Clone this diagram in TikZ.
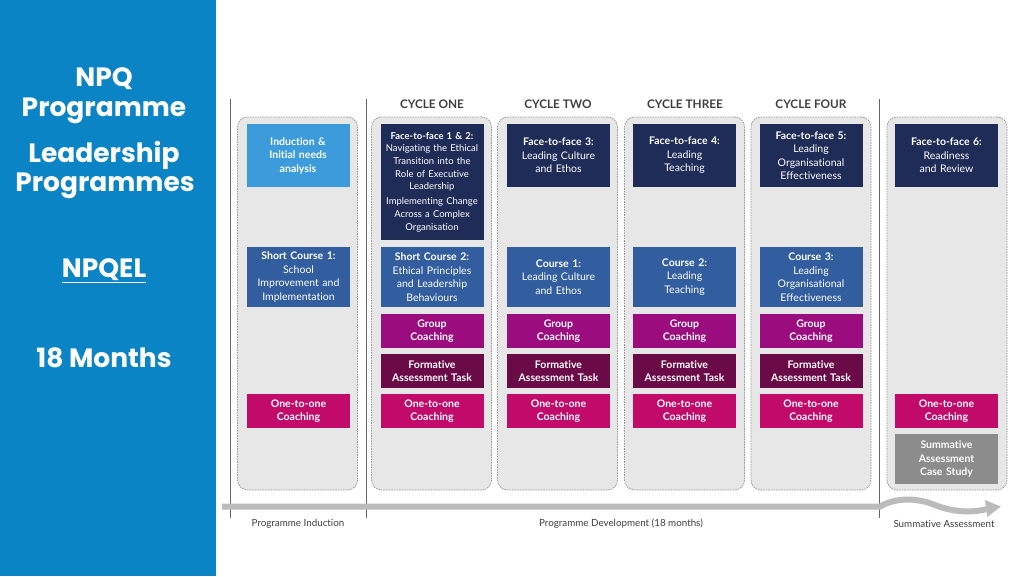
\documentclass[tikz,border=0pt]{standalone}
\usepackage{fontspec}
\usetikzlibrary{arrows.meta}
\newfontfamily\lato[Ligatures=NoCommon]{Lato}
\newfontfamily\pop{Poppins}
\definecolor{panelblue}{HTML}{0B84C6}
\definecolor{indblue}{HTML}{3C9BDB}
\definecolor{navy}{HTML}{1F2C58}
\definecolor{courseblue}{HTML}{325D9F}
\definecolor{grouppink}{HTML}{9B0C7E}
\definecolor{formmaroon}{HTML}{6A0A47}
\definecolor{onepink}{HTML}{C20A6B}
\definecolor{sumgray}{HTML}{8C8C8C}
\definecolor{colfill}{HTML}{E7E7E7}
\definecolor{coldraw}{HTML}{9A9A9A}
\definecolor{linegray}{HTML}{666666}
\definecolor{bargray}{HTML}{BBBBBB}
\definecolor{headgray}{HTML}{3F3F3F}
\tikzset{
  colbg/.style={draw=coldraw, fill=colfill, dash pattern=on 1.6pt off 1pt, line width=0.8pt, rounded corners=10pt, minimum width=120pt, minimum height=373pt, inner sep=0pt},
  blk/.style={minimum width=103pt, inner sep=0pt, text width=102pt, align=center, text=white, font=\lato\fontsize{10.5}{13.5}\selectfont},
  blksmall/.style={blk, font=\lato\fontsize{9.5}{12.7}\selectfont},
  head/.style={font=\lato\bfseries\fontsize{11.8}{13}\selectfont, text=headgray},
  foot/.style={font=\lato\fontsize{9.8}{11}\selectfont, text=headgray},
  sep/.style={draw=linegray, line width=0.8pt},
  paneltext/.style={text=white, font=\pop\bfseries\fontsize{26.5}{30}\selectfont, align=center},
}
\begin{document}
\begin{tikzpicture}[x=1pt,y=-1pt]
\useasboundingbox (0,0) rectangle (1024,576);
% left panel
\fill[panelblue] (0,0) rectangle (216,576);
\node[paneltext] (t1) at (104,79) {NPQ};
\node[paneltext] (t2) at (104,111) {Programme};
\node[paneltext] (t3) at (104,155) {Leadership};
\node[paneltext] (t4) at (105,186) {Programmes};
\node[paneltext] (t5) at (104,271) {\underline{NPQEL}};
\node[paneltext] (t6) at (104,358) {18 Months};

% separators and ticks
\coordinate (s1t) at (230,99); \coordinate (s1b) at (230,518);
\coordinate (s2t) at (366,99); \coordinate (s2b) at (366,518);
\coordinate (s3t) at (879,99); \coordinate (s3b) at (879,518);
\draw[sep] (s1t) -- (s1b);
\draw[sep] (s2t) -- (s2b);
\draw[sep] (s3t) -- (s3b);

% timeline
\coordinate (ta) at (222,506.5);
\coordinate (tb) at (880,506.5);
\draw[bargray, line width=6pt, -{Triangle[length=15pt,width=16pt]}]
  (ta) -- (tb) .. controls (895,498) and (915,497) .. (935,505)
  .. controls (955,513) and (975,513) .. (990,508) -- (1001,506.5);

% column backgrounds
\node[colbg] (cb0) at (297.5,303.5) {};
\node[colbg] (cb1) at (431.5,303.5) {};
\node[colbg] (cb2) at (557.5,303.5) {};
\node[colbg] (cb3) at (684.5,303.5) {};
\node[colbg] (cb4) at (811,303.5) {};
\node[colbg] (cb5) at (947,303.5) {};

% headers
\node[head] (h1) at (432,104) {CYCLE ONE};
\node[head] (h2) at (558,104) {CYCLE TWO};
\node[head] (h3) at (685,104) {CYCLE THREE};
\node[head] (h4) at (811,104) {CYCLE FOUR};

% column 0
\node[blk, fill=indblue, minimum height=63pt] (ind) at (298,155.5) {\textbf{Induction \&\\Initial needs\\analysis}};
\node[blk, fill=courseblue, minimum height=60pt] (sc1) at (298.5,277) {\textbf{Short Course 1:}\\School\\Improvement and\\Implementation};
\node[blk, fill=onepink, minimum height=34pt] (oo0) at (298.5,411) {\textbf{One-to-one\\Coaching}};

% column 1
\node[blksmall, fill=navy, minimum height=116pt] (f12) at (432,182) {\textbf{Face-to-face 1 \& 2:}\\Navigating the Ethical\\Transition into the\\Role of Executive\\Leadership\\[2pt]Implementing Change\\Across a Complex\\Organisation};
\node[blk, fill=courseblue, minimum height=60pt] (sc2) at (432,277) {\textbf{Short Course 2:}\\Ethical Principles\\and Leadership\\Behaviours};
\node[blk, fill=grouppink, minimum height=34pt] (gc1) at (432,331) {\textbf{Group\\Coaching}};
\node[blk, fill=formmaroon, minimum height=34pt] (fa1) at (432,371) {\textbf{Formative\\Assessment Task}};
\node[blk, fill=onepink, minimum height=34pt] (oo1) at (432,411) {\textbf{One-to-one\\Coaching}};

% column 2
\node[blk, fill=navy, minimum height=63pt] (f3) at (558.5,155.5) {\textbf{Face-to-face 3:}\\Leading Culture\\and Ethos};
\node[blk, fill=courseblue, minimum height=60pt] (c1) at (558.5,277) {\textbf{Course 1:}\\Leading Culture\\and Ethos};
\node[blk, fill=grouppink, minimum height=34pt] (gc2) at (558.5,331) {\textbf{Group\\Coaching}};
\node[blk, fill=formmaroon, minimum height=34pt] (fa2) at (558.5,371) {\textbf{Formative\\Assessment Task}};
\node[blk, fill=onepink, minimum height=34pt] (oo2) at (558.5,411) {\textbf{One-to-one\\Coaching}};

% column 3
\node[blk, fill=navy, minimum height=63pt] (f4) at (684.5,155.5) {\textbf{Face-to-face 4:}\\Leading\\Teaching};
\node[blk, fill=courseblue, minimum height=60pt] (c2) at (684.5,277) {\textbf{Course 2:}\\Leading\\Teaching};
\node[blk, fill=grouppink, minimum height=34pt] (gc3) at (684.5,331) {\textbf{Group\\Coaching}};
\node[blk, fill=formmaroon, minimum height=34pt] (fa3) at (684.5,371) {\textbf{Formative\\Assessment Task}};
\node[blk, fill=onepink, minimum height=34pt] (oo3) at (684.5,411) {\textbf{One-to-one\\Coaching}};

% column 4
\node[blk, fill=navy, minimum height=63pt] (f5) at (811,155.5) {\textbf{Face-to-face 5:}\\Leading\\Organisational\\Effectiveness};
\node[blk, fill=courseblue, minimum height=60pt] (c3) at (811,277) {\textbf{Course 3:}\\Leading\\Organisational\\Effectiveness};
\node[blk, fill=grouppink, minimum height=34pt] (gc4) at (811,331) {\textbf{Group\\Coaching}};
\node[blk, fill=formmaroon, minimum height=34pt] (fa4) at (811,371) {\textbf{Formative\\Assessment Task}};
\node[blk, fill=onepink, minimum height=34pt] (oo4) at (811,411) {\textbf{One-to-one\\Coaching}};

% column 5
\node[blk, fill=navy, minimum height=63pt] (f6) at (946.5,155.5) {\textbf{Face-to-face 6:}\\Readiness\\and Review};
\node[blk, fill=onepink, minimum height=34pt] (oo5) at (946.5,411) {\textbf{One-to-one\\Coaching}};
\node[blk, fill=sumgray, minimum height=50pt] (sum) at (946.5,459) {\textbf{Summative\\Assessment\\Case Study}};

% footer labels
\node[foot] (l1) at (298,524) {Programme Induction};
\node[foot] (l2) at (621,524) {Programme Development (18 months)};
\node[foot] (l3) at (944,524) {Summative Assessment};
\end{tikzpicture}
\end{document}
